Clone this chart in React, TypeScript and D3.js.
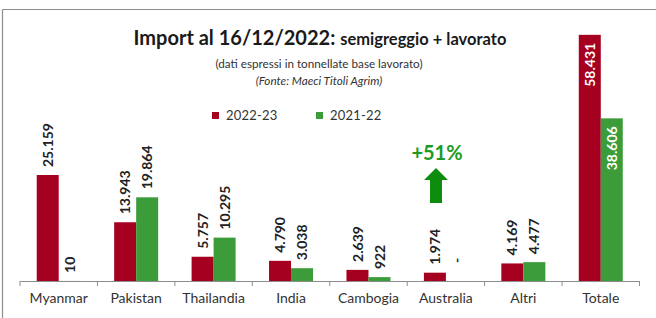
import React from "react";
import * as d3 from "d3";

const categories = ["Myanmar", "Pakistan", "Thailandia", "India", "Cambogia", "Australia", "Altri", "Totale"];
const values2223 = [25159, 13943, 5757, 4790, 2639, 1974, 4169, 58431];
const values2122: (number | null)[] = [10, 19864, 10295, 3038, 922, null, 4477, 38606];
const seriesNames = ["2022-23", "2021-22"];
const growthLabel = "+51%";

const RED = "#a5001f";
const GREEN = "#3c9c3a";
const FONT = "Lato, 'Open Sans', sans-serif";

const fmt = (v: number | null) => (v == null ? "-" : d3.format(",")(v).replace(/,/g, "."));

export default function App() {
  const width = 656;
  const height = 318;
  const baseY = 281;

  const x = d3.scaleBand().domain(categories).range([20, 639.5]).padding(0);
  const y = d3.scaleLinear().domain([0, 60000]).range([baseY, baseY - 60000 * 0.004213]);
  const barW = 22;

  const series = [
    { name: seriesNames[0], color: RED, values: values2223 as (number | null)[], offset: -barW },
    { name: seriesNames[1], color: GREEN, values: values2122, offset: 0 },
  ];

  const ticks = [...categories.map((c) => x(c) as number), 639.5];

  return (
    <svg width={width} height={height} style={{ position: "absolute", left: 0, top: 0 }} fontFamily={FONT}>
      <rect width={width} height={height} fill="#fff" />
      {/* frame */}
      <line x1={2.5} x2={width} y1={9.5} y2={9.5} stroke="#8c8c8c" strokeWidth={1.2} />
      <line x1={2.5} x2={2.5} y1={9.5} y2={height} stroke="#8c8c8c" strokeWidth={1.2} />

      {/* titles */}
      <text x={320} y={45} textAnchor="middle" fontWeight={700} fill="#1a1a1a">
        <tspan fontSize={20}>Import al 16/12/2022: </tspan>
        <tspan fontSize={16.5}>semigreggio + lavorato</tspan>
      </text>
      <text x={319} y={68} textAnchor="middle" fontSize={11.7} fill="#333">
        (dati espressi in tonnellate base lavorato)
      </text>
      <text x={319} y={85} textAnchor="middle" fontSize={11.7} fontStyle="italic" fill="#333">
        (Fonte: Maeci Titoli Agrim)
      </text>

      {/* legend */}
      {series.map((s, i) => (
        <g key={s.name} transform={`translate(${212 + i * 104},112)`}>
          <rect width={7} height={7} fill={s.color} />
          <text x={14} y={8} fontSize={13} fill="#333" letterSpacing={0.2}>
            {s.name}
          </text>
        </g>
      ))}

      {/* bars */}
      {series.map((s) =>
        categories.map((c, i) => {
          const v = s.values[i];
          const cx = (x(c) as number) + x.bandwidth() / 2 + s.offset;
          const top = y(v ?? 0);
          const inside = c === "Totale";
          const lx = cx + barW / 2;
          const ly = inside ? top + 8 : top - 8 - (v == null ? 10 : 0);
          return (
            <g key={s.name + c}>
              {v != null && v > 0 && (
                <rect x={cx} y={top} width={barW} height={baseY - top} fill={s.color} />
              )}
              <text
                transform={`translate(${lx},${ly}) rotate(-90)`}
                textAnchor={inside ? "end" : "start"}
                dy="0.36em"
                fontSize={14}
                fontWeight={700}
                fill={inside ? "#fff" : "#222"}
              >
                {fmt(v)}
              </text>
            </g>
          );
        })
      )}

      {/* axis */}
      <line x1={20} x2={639.5} y1={baseY + 0.5} y2={baseY + 0.5} stroke="#8c8c8c" />
      {ticks.map((t, i) => (
        <line key={i} x1={t} x2={t} y1={baseY} y2={baseY + 5} stroke="#8c8c8c" />
      ))}
      {categories.map((c) => (
        <text
          key={c}
          x={(x(c) as number) + x.bandwidth() / 2}
          y={303}
          textAnchor="middle"
          fontSize={14}
          fill="#333"
        >
          {c}
        </text>
      ))}

      {/* growth annotation */}
      <text x={437} y={160} textAnchor="middle" fontSize={20} fontWeight={700} fill="#1e9a1e">
        {growthLabel}
      </text>
      <path
        d="M436,168 L448,180 L442,180 L442,203 L430,203 L430,180 L424,180 Z"
        fill="#0e8c0e"
      />
    </svg>
  );
}
